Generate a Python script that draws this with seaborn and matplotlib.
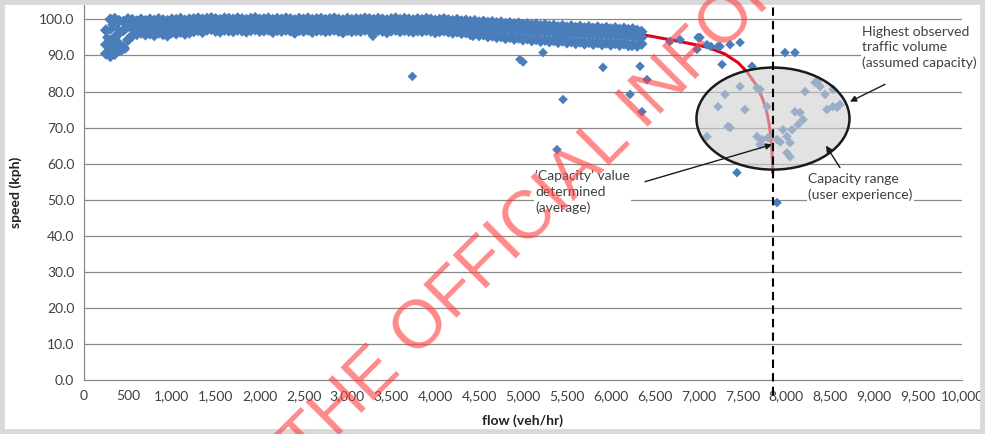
import numpy as np
import pandas as pd
import matplotlib
matplotlib.use("Agg")
import matplotlib.pyplot as plt
import seaborn as sns
from matplotlib.patches import Ellipse, Rectangle

# ---- data ----
band_flow = [
    250, 300, 350, 400, 450, 500, 550, 600, 650, 700,
    750, 800, 850, 900, 950, 1000, 1050, 1100, 1150, 1200,
    1250, 1300, 1350, 1400, 1450, 1500, 1550, 1600, 1650, 1700,
    1750, 1800, 1850, 1900, 1950, 2000, 2050, 2100, 2150, 2200,
    2250, 2300, 2350, 2400, 2450, 2500, 2550, 2600, 2650, 2700,
    2750, 2800, 2850, 2900, 2950, 3000, 3050, 3100, 3150, 3200,
    3250, 3300, 3350, 3400, 3450, 3500, 3550, 3600, 3650, 3700,
    3750, 3800, 3850, 3900, 3950, 4000, 4050, 4100, 4150, 4200,
    4250, 4300, 4350, 4400, 4450, 4500, 4550, 4600, 4650, 4700,
    4750, 4800, 4850, 4900, 4950, 5000, 5050, 5100, 5150, 5200,
    5250, 5300, 5350, 5400, 5450, 5500, 5550, 5600, 5650, 5700,
    5750, 5800, 5850, 5900, 5950, 6000, 6050, 6100, 6150, 6200,
    6250, 6300, 6350,
]
band_hi = [
    97.0, 100.0, 100.2, 99.6, 99.4, 100.1, 99.9, 99.5, 100.0, 99.6,
    100.0, 99.7, 100.1, 99.8, 99.6, 100.0, 99.9, 100.2, 99.7, 100.0,
    100.1, 100.3, 100.0, 100.2, 100.4, 100.1, 99.9, 100.3, 100.2, 100.0,
    100.3, 100.1, 99.9, 100.2, 100.4, 100.0, 100.1, 100.3, 99.9, 100.2,
    100.0, 100.3, 100.1, 99.8, 100.2, 100.0, 100.3, 99.9, 100.1, 100.2,
    99.9, 100.1, 100.3, 100.0, 99.8, 100.2, 99.9, 100.1, 100.0, 100.3,
    100.1, 99.9, 100.2, 100.0, 99.8, 100.1, 100.3, 99.9, 100.2, 100.0,
    99.8, 100.1, 99.9, 100.2, 100.0, 99.7, 99.9, 100.1, 99.8, 99.6,
    99.9, 99.5, 99.7, 99.4, 99.6, 99.2, 99.4, 99.1, 99.3, 99.0,
    99.2, 98.8, 99.0, 98.7, 98.9, 98.5, 98.7, 98.4, 98.6, 98.2,
    98.5, 98.1, 98.3, 97.9, 98.2, 97.8, 98.1, 97.7, 98.0, 97.6,
    97.9, 97.5, 97.8, 97.4, 97.7, 97.3, 97.6, 97.2, 97.5, 97.1,
    97.3, 96.9, 96.6,
]
band_mid = [
    93.0, 94.0, 95.0, 96.2, 97.0, 98.0, 97.6, 97.8, 98.1, 97.9,
    98.0, 97.7, 98.2, 98.0, 97.8, 98.3, 98.1, 98.4, 98.0, 98.3,
    98.6, 98.9, 98.5, 99.0, 99.2, 98.8, 98.7, 99.1, 99.0, 98.8,
    99.1, 98.9, 98.7, 99.0, 99.2, 98.8, 98.9, 99.1, 98.6, 99.0,
    98.8, 99.1, 98.9, 98.5, 99.0, 98.8, 99.1, 98.6, 98.9, 99.0,
    98.7, 98.9, 99.1, 98.8, 98.5, 99.0, 98.7, 98.9, 98.8, 99.1,
    98.9, 98.6, 99.0, 98.8, 98.5, 98.9, 99.1, 98.7, 99.0, 98.8,
    98.6, 98.9, 98.7, 99.0, 98.8, 98.5, 98.7, 98.9, 98.6, 98.4,
    98.7, 98.3, 98.5, 98.1, 98.3, 97.9, 98.1, 97.7, 97.9, 97.5,
    97.7, 97.3, 97.5, 97.1, 97.3, 96.9, 97.1, 96.7, 96.9, 96.5,
    96.8, 96.4, 96.6, 96.2, 96.5, 96.1, 96.4, 96.0, 96.3, 95.9,
    96.2, 95.8, 96.1, 95.7, 96.0, 95.6, 95.9, 95.5, 95.8, 95.4,
    95.6, 95.3, 95.0,
]
band_lo = [
    90.5, 89.8, 90.4, 91.5, 92.2, 94.3, 95.5, 95.9, 96.3, 95.8,
    96.1, 95.6, 96.3, 95.9, 95.5, 96.4, 96.1, 96.5, 96.0, 96.3,
    96.7, 97.0, 96.5, 97.1, 97.3, 96.8, 96.6, 97.1, 96.9, 96.7,
    97.1, 96.9, 96.6, 97.0, 97.2, 96.8, 96.9, 97.1, 96.5, 97.0,
    96.8, 97.1, 96.9, 96.3, 97.0, 96.8, 97.1, 96.5, 96.9, 97.0,
    96.7, 96.9, 97.1, 96.8, 96.4, 97.0, 96.7, 96.9, 96.8, 97.1,
    96.9, 96.5, 97.0, 96.8, 96.4, 96.9, 97.1, 96.7, 97.0, 96.8,
    96.6, 96.9, 96.7, 97.0, 96.8, 96.4, 96.7, 96.9, 96.6, 96.3,
    96.6, 96.2, 96.4, 95.9, 96.1, 95.6, 95.8, 95.3, 95.5, 95.1,
    95.3, 94.8, 95.1, 94.6, 94.9, 94.4, 94.7, 94.2, 94.5, 94.0,
    94.3, 93.9, 94.2, 93.7, 94.1, 93.6, 93.9, 93.4, 93.8, 93.3,
    93.7, 93.2, 93.6, 93.1, 93.5, 93.0, 93.4, 92.9, 93.3, 92.8,
    93.1, 92.7, 93.2,
]

# scattered observations away from the main band
scatter_flow = [
    260, 280, 300, 330, 380, 430, 470, 320, 360, 400,
    3290, 3740, 4430, 4965, 5000, 5228, 5387, 5456, 5911, 6048, 6241, 6333,
    6412, 6219, 6355, 6674, 6788, 6993, 7016, 7095, 6982, 7140, 7221, 7244,
    7358, 7472, 7267, 7608, 7984, 8098, 7301, 7472, 7221, 7528, 7699, 7779,
    7358, 7095, 7722, 7790, 7893, 7930, 8064, 8041, 8006, 8041, 8098, 8155,
    8189, 8132, 8212, 8326, 8383, 8440, 8531, 8462, 8576, 8610, 7437, 7893,
    7665, 7699, 7961, 8006, 7335, 7665, 8350, 8530,
]
scatter_speed = [
    95.0, 91.8, 97.0, 92.8, 97.5, 91.3, 91.8, 98.5, 92.0, 93.5,
    95.3, 84.2, 95.3, 88.9, 88.2, 90.8, 63.9, 77.8, 86.7, 93.6, 92.5, 87.0,
    83.3, 79.2, 74.4, 93.9, 94.4, 95.0, 95.0, 93.0, 91.7, 92.5, 92.5, 92.5,
    93.0, 93.6, 87.5, 87.0, 90.8, 90.8, 79.2, 81.4, 75.8, 75.0, 80.6, 75.8,
    70.0, 67.5, 66.7, 67.2, 66.7, 66.0, 69.4, 65.8, 63.0, 61.9, 74.4, 74.2,
    72.2, 70.8, 80.0, 82.5, 81.4, 79.2, 80.6, 75.0, 75.6, 76.4, 57.5, 49.2,
    67.5, 65.3, 69.4, 67.5, 70.3, 81.0, 82.8, 75.8,
]

# fitted speed-flow curve
curve_flow = [300, 1500, 3000, 4000, 4500, 5000, 5500, 6000, 6400, 6800,
              7100, 7300, 7450, 7550, 7650, 7720, 7770, 7800, 7820, 7835, 7845]
curve_speed = [100.0, 100.0, 99.9, 99.6, 99.3, 98.8, 98.0, 96.9, 95.6, 93.8,
               92.3, 90.4, 88.0, 85.5, 82.0, 78.5, 75.0, 71.5, 68.0, 63.5, 57.5]

capacity_flow = 7850
range_centre = (7847, 72.5)
range_width, range_height = 1743, 28.3

x_ticks = [0, 500, 1000, 1500, 2000, 2500, 3000, 3500, 4000, 4500, 5000,
           5500, 6000, 6500, 7000, 7500, 8000, 8500, 9000, 9500, 10000]
x_tick_labels = ["0", "500", "1,000", "1,500", "2,000", "2,500", "3,000",
                 "3,500", "4,000", "4,500", "5,000", "5,500", "6,000", "6,500",
                 "7,000", "7,500", "8,000", "8,500", "9,000", "9,500", "10,000"]
y_ticks = [0, 10, 20, 30, 40, 50, 60, 70, 80, 90, 100]
y_tick_labels = ["0.0", "10.0", "20.0", "30.0", "40.0", "50.0", "60.0",
                 "70.0", "80.0", "90.0", "100.0"]

# ---- style ----
sns.set_theme(style="white")
plt.rcParams["font.family"] = ["Lato", "DejaVu Sans"]

TXT = "#404040"
GRID = "#8a8a8a"
BLUE = "#4a7ebb"

band = pd.DataFrame({
    "flow": band_flow * 3,
    "speed": band_hi + band_mid + band_lo,
})
others = pd.DataFrame({"flow": scatter_flow, "speed": scatter_speed})

fig = plt.figure(figsize=(9.85, 4.34), dpi=100, facecolor="white")
ax = fig.add_axes([84 / 985, 54 / 434, 878 / 985, 375 / 434])

for y in y_ticks[1:]:
    ax.axhline(y, color=GRID, lw=0.9, zorder=0)

sns.lineplot(x=curve_flow, y=curve_speed, sort=False, color="#e3001b",
             lw=2.2, ax=ax, zorder=1.5)
# the dense band of observations: markers overlap into a solid ribbon
sns.scatterplot(data=band, x="flow", y="speed", marker="D", s=38,
                color=BLUE, edgecolor="none", linewidth=0, ax=ax, zorder=2)
sns.scatterplot(data=others, x="flow", y="speed", marker="D", s=24,
                color=BLUE, edgecolor="none", linewidth=0, ax=ax, zorder=2)

ax.add_patch(Ellipse(range_centre, range_width, range_height,
                     facecolor="#d0d0d0", alpha=0.6, edgecolor="none", zorder=3))
ax.add_patch(Ellipse(range_centre, range_width, range_height,
                     facecolor="none", edgecolor="#1a1a1a", lw=1.8, zorder=3.2))

ax.axvline(capacity_flow, ymin=-0.04, ymax=1.0, color="black", lw=1.5,
           ls=(0, (4, 2.5)), clip_on=False, zorder=4)

ax.set_xlim(0, 10000)
ax.set_ylim(0, 104)
ax.set_xticks(x_ticks)
ax.set_xticklabels(x_tick_labels)
ax.set_yticks(y_ticks)
ax.set_yticklabels(y_tick_labels)
ax.tick_params(axis="both", colors=GRID, labelcolor=TXT, labelsize=10,
               direction="out", length=4, width=0.9, pad=3)
for side in ["top", "right"]:
    ax.spines[side].set_visible(False)
for side in ["left", "bottom"]:
    ax.spines[side].set_color(GRID)
    ax.spines[side].set_linewidth(0.9)

ax.set_xlabel("flow (veh/hr)", fontsize=10, fontweight="bold", color="#202020")
ax.set_ylabel("speed (kph)", fontsize=10, fontweight="bold", color="#202020")
ax.xaxis.set_label_coords(0.5, -0.092)
ax.yaxis.set_label_coords(-0.071, 0.5)

# annotations
note_kw = dict(fontsize=10, color=TXT, ha="left", va="top", linespacing=1.35,
               zorder=5, bbox=dict(facecolor="white", edgecolor="none", pad=1))
arrow_kw = dict(arrowstyle="-|>", color="#1a1a1a", lw=1.0,
                mutation_scale=9, shrinkA=0, shrinkB=0)

ax.text(8861, 98.3, "Highest observed\ntraffic volume\n(assumed capacity)", **note_kw)
ax.annotate("", xy=(8724, 77.2), xytext=(9123, 82.0), arrowprops=arrow_kw, zorder=6)

ax.text(5137, 58.3, "\u2018Capacity\u2019 value\ndetermined\n(average)", **note_kw)
ax.annotate("", xy=(7836, 65.3), xytext=(6390, 55.0), arrowprops=arrow_kw, zorder=6)

ax.text(8246, 57.4, "Capacity range\n(user experience)", **note_kw)
ax.annotate("", xy=(8451, 65.0), xytext=(8610, 58.9), arrowprops=arrow_kw, zorder=6)

# watermark across the chart
fig.text(294 / 985, 1 - 456 / 434, "THE OFFICIAL INFORMATION", rotation=45,
         rotation_mode="anchor", ha="left", va="center", fontsize=49,
         color="#ff3b3b", alpha=0.6, family=["Liberation Sans", "DejaVu Sans"],
         zorder=10)

# chart border
fig.patches.append(Rectangle((0, 0), 1, 1, transform=fig.transFigure,
                             facecolor="none", edgecolor="#d9d9d9", lw=7))

fig.savefig("out.png", dpi=100, facecolor="white")
